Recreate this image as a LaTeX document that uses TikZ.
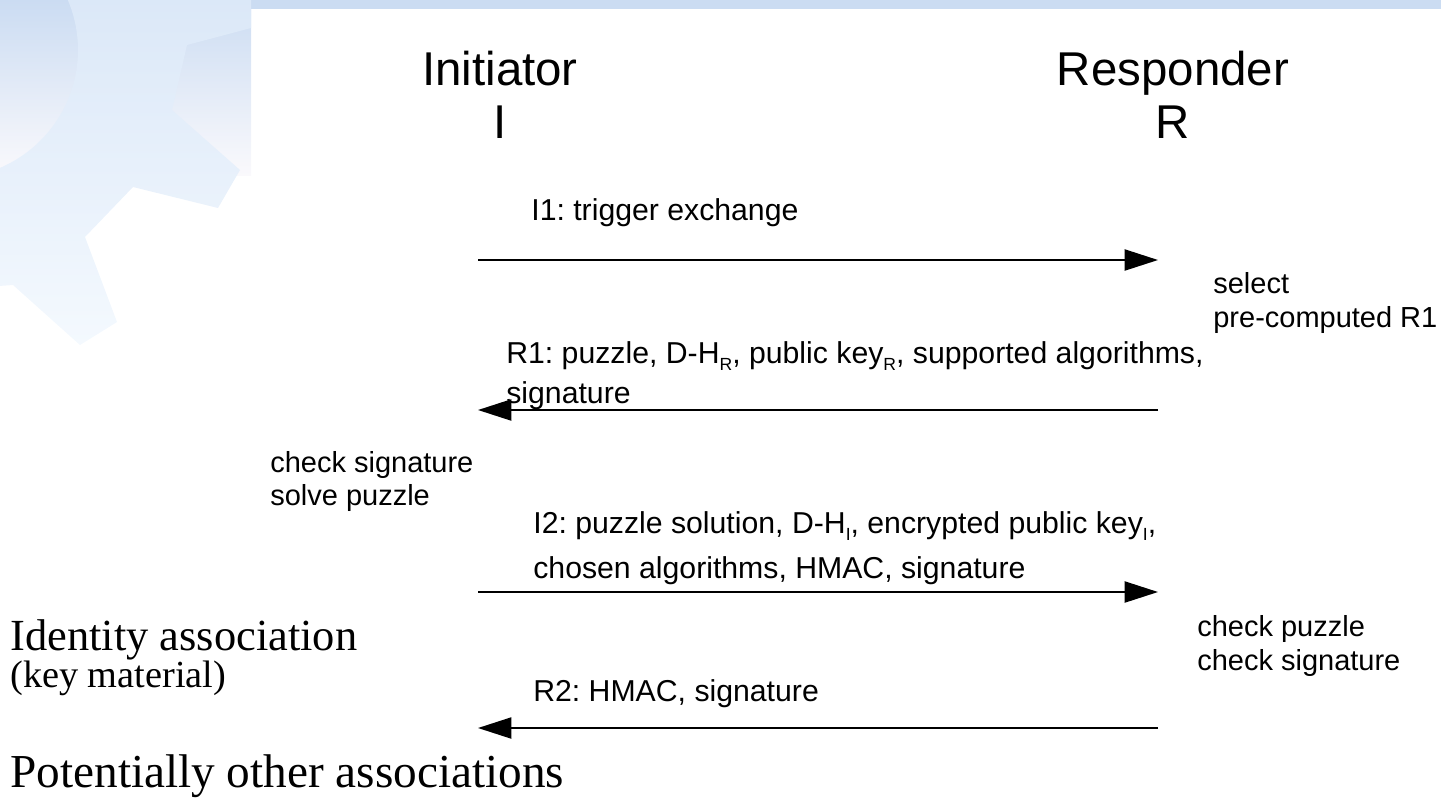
\documentclass[tikz,border=0pt]{standalone}
\usepackage{fontspec}
\setmainfont{Liberation Sans}
\newfontfamily\assocfont{Liberation Serif}
\usepackage{tikz}
\usetikzlibrary{arrows.meta}
\frenchspacing

\definecolor{bandblue}{RGB}{203,220,242}
\definecolor{gearblue}{RGB}{212,227,246}
\definecolor{gearpale}{RGB}{244,249,254}
\definecolor{fadepink}{RGB}{250,249,252}

\newcommand{\lowsub}[1]{\raisebox{-0.5ex}{\fontsize{10}{10}\selectfont #1}}

\begin{document}
\begin{tikzpicture}[
    x = 0.02cm, y = -0.02cm,
    party/.style = {font=\fontsize{27}{30}\selectfont, inner sep=0pt, anchor=base},
    msg/.style = {font=\fontsize{17.2}{20}\selectfont, inner sep=0pt, anchor=base west},
    note/.style = {font=\fontsize{16.5}{20}\selectfont, inner sep=0pt, anchor=base west},
    assoc/.style = {font=\assocfont\fontsize{#1}{30}\selectfont, inner sep=0pt, anchor=base west},
    flow/.style = {line width=1.1pt, -{Triangle[length=19pt, width=12pt]}},
  ]
  \useasboundingbox (0,0) rectangle (1441,799);

  % slide frame
  \fill[bandblue] (0,0) rectangle (1441,9);
  \shade[top color=bandblue, bottom color=fadepink] (0,0) rectangle (251,175);
  \begin{scope}
    \clip (0,0) rectangle (251,799);
    \shade[top color=gearblue, bottom color=gearpale, even odd rule]
      (-200,-100) -- (300,-100) -- (300,15) -- (187,45) -- (172,110)
      -- (240,170) -- (218,208) -- (133,187) -- (85,237) -- (117,322)
      -- (80,345) -- (13,285) -- (-200,300) -- cycle
      (-50,50) circle (2.56cm);
  \end{scope}

  % parties
  \node[party] (ini) at (500,85) {Initiator};
  \node[party] (inil) at (500,138) {I};
  \node[party] (res) at (1173,85) {Responder};
  \node[party] (resl) at (1173,138) {R};

  % ends of the messages
  \coordinate (i1) at (478,260);  \coordinate (r1) at (1158,260);
  \coordinate (i2) at (478,410);  \coordinate (r2) at (1158,410);
  \coordinate (i3) at (478,592);  \coordinate (r3) at (1158,592);
  \coordinate (i4) at (478,728);  \coordinate (r4) at (1158,728);

  \begin{scope}[flow]
    \draw (i1) -- (r1);
    \draw (r2) -- (i2);
    \draw (i3) -- (r3);
    \draw (r4) -- (i4);
  \end{scope}

  \node[msg] (m1) at (531,220) {I1: trigger exchange};
  \node[msg] (m2a) at (506,363)
    {R1: puzzle, D-H\lowsub{R}, public key\lowsub{R}, supported algorithms,};
  \node[msg] (m2b) at (506,403) {signature};
  \node[msg] (m3a) at (533,533)
    {I2: puzzle solution, D-H\lowsub{I}, encrypted public key\lowsub{I},};
  \node[msg] (m3b) at (533,578) {chosen algorithms, HMAC, signature};
  \node[msg] (m4) at (533,701) {R2: HMAC, signature};

  \node[note] (sel) at (1213,293) {select};
  \node[note] (pre) at (1213,327) {pre-computed R1};
  \node[note] (chs) at (270,472) {check signature};
  \node[note] (sol) at (270,505) {solve puzzle};
  \node[note] (chp) at (1197,636) {check puzzle};
  \node[note] (chk) at (1197,670) {check signature};

  \node[assoc=25.3] (ida) at (10,650) {Identity association};
  \node[assoc=21.8] (key) at (10,687) {(key material)};
  \node[assoc=26.9] (oth) at (10,787) {Potentially other associations};
\end{tikzpicture}
\end{document}
